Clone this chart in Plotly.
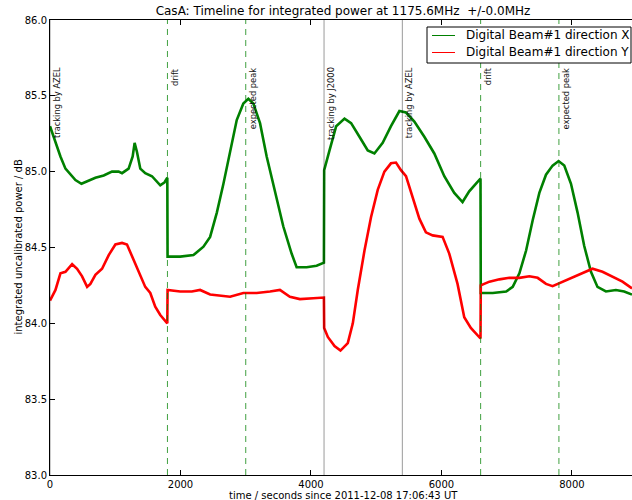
import plotly.graph_objects as go

# Integrated power timeline, direction X (seconds since start, dB)
time_x = [0, 23, 84, 160, 237, 313, 390, 482, 593, 696, 823, 950, 1052, 1104, 1205,
          1267, 1297, 1333, 1384, 1460, 1563, 1690, 1756, 1798,
          1802, 1995, 2199, 2352, 2454, 2557, 2658, 2760, 2862, 2963, 3040, 3116, 3219,
          3321, 3448, 3575, 3703, 3780, 3933, 4086, 4198,
          4202, 4284, 4386, 4514, 4615, 4743, 4870, 4972, 5099, 5226, 5355, 5456, 5584,
          5737, 5890, 6043, 6196, 6323, 6425, 6526, 6598,
          6602, 6786, 6991, 7092, 7194, 7297, 7398, 7500, 7602, 7703, 7795, 7882, 7985,
          8086, 8188, 8291, 8391, 8520, 8673, 8800, 8920]
power_x = [85.30, 85.27, 85.19, 85.10, 85.02, 84.98, 84.945, 84.92, 84.94, 84.96, 84.975, 85.00, 85.00, 84.99, 85.02,
           85.10, 85.19, 85.13, 85.02, 84.99, 84.97, 84.91, 84.93, 84.96,
           84.44, 84.44, 84.45, 84.505, 84.57, 84.73, 84.92, 85.14, 85.34, 85.45, 85.48, 85.45, 85.32,
           85.10, 84.86, 84.64, 84.46, 84.37, 84.37, 84.38, 84.40,
           85.01, 85.14, 85.30, 85.35, 85.32, 85.23, 85.14, 85.12, 85.19, 85.30, 85.40, 85.39, 85.33,
           85.23, 85.12, 84.97, 84.86, 84.80, 84.87, 84.92, 84.955,
           84.20, 84.20, 84.21, 84.24, 84.33, 84.48, 84.68, 84.86, 84.98, 85.04, 85.07, 85.04, 84.92,
           84.73, 84.51, 84.34, 84.24, 84.21, 84.22, 84.21, 84.19]

# Integrated power timeline, direction Y
time_y = [0, 84, 160, 237, 339, 415, 492, 569, 619, 696, 798, 900, 1002, 1104, 1180,
          1257, 1358, 1460, 1537, 1613, 1690, 1766, 1798,
          1802, 1995, 2174, 2301, 2454, 2607, 2760, 2963, 3168, 3372, 3524, 3677, 3830, 4034, 4198,
          4202, 4258, 4361, 4452, 4564, 4641, 4717, 4820, 4920, 5023, 5125, 5226, 5303, 5379,
          5456, 5558, 5661, 5761, 5864, 6017, 6119, 6246, 6349, 6450, 6598,
          6602, 6735, 6888, 7041, 7194, 7347, 7474, 7602, 7703, 7832, 7985, 8138, 8315, 8468,
          8621, 8774, 8920]
power_y = [84.15, 84.22, 84.33, 84.34, 84.39, 84.36, 84.31, 84.24, 84.26, 84.32, 84.36, 84.45, 84.52, 84.53, 84.52,
           84.44, 84.34, 84.24, 84.20, 84.11, 84.055, 84.02, 84.00,
           84.22, 84.21, 84.21, 84.22, 84.19, 84.18, 84.175, 84.20, 84.20, 84.21, 84.22, 84.175, 84.16, 84.165, 84.17,
           83.97, 83.91, 83.85, 83.82, 83.87, 84.00, 84.22, 84.48, 84.70, 84.88, 85.00, 85.055, 85.06, 85.01,
           84.97, 84.835, 84.69, 84.60, 84.58, 84.57, 84.46, 84.26, 84.04, 83.97, 83.90,
           84.25, 84.275, 84.29, 84.30, 84.30, 84.31, 84.30, 84.26, 84.245, 84.27, 84.30, 84.325, 84.36, 84.34,
           84.31, 84.275, 84.23]

series_names = ["Digital Beam#1 direction X", "Digital Beam#1 direction Y"]

# Observation events (seconds) and their labels
event_times = [0, 1800, 3000, 4200, 5400, 6600, 7800]
event_labels = ["tracking by AZEL", "drift", "expected peak", "tracking by J2000",
                "tracking by AZEL", "drift", "expected peak"]
event_dashed = [False, True, True, False, False, True, True]

x_ticks = [0, 2000, 4000, 6000, 8000]
y_ticks = [83.0, 83.5, 84.0, 84.5, 85.0, 85.5, 86.0]

FONT = "DejaVu Sans"
GREEN = "#008000"
RED = "#ff0000"

# plot area geometry (pixels)
W, H = 632, 500
L, T, B = 50, 20, 25
PW, PH = W - L, H - T - B


def px_x(px):
    return (px - L) / PW


def px_y(py):
    return (H - B - py) / PH


fig = go.Figure()

fig.add_trace(go.Scatter(x=time_x, y=power_x, mode="lines", name=series_names[0],
                         showlegend=False, line=dict(color=GREEN, width=2.6)))
fig.add_trace(go.Scatter(x=time_y, y=power_y, mode="lines", name=series_names[1],
                         showlegend=False, line=dict(color=RED, width=2.6)))

for t, label, dashed in zip(event_times, event_labels, event_dashed):
    if dashed:
        line = dict(color="rgba(0,128,0,0.75)", width=1, dash="6px,5px")
    else:
        line = dict(color="rgba(0,0,0,0.4)", width=1)
    fig.add_shape(type="line", xref="x", yref="paper", x0=t, x1=t, y0=0, y1=1,
                  line=line, layer="above")
    fig.add_annotation(x=t, y=85.7, xref="x", yref="y", text=label, textangle=-90,
                       xanchor="left", yanchor="top", showarrow=False,
                       font=dict(family=FONT, size=8.3, color="#111"))

# legend box in the upper right corner
fig.add_shape(type="rect", xref="paper", yref="paper",
              x0=px_x(427), x1=px_x(631), y0=px_y(63), y1=px_y(27),
              line=dict(color="black", width=1), fillcolor="white", layer="above")
for name, color, py in zip(series_names, [GREEN, RED], [35.5, 52.5]):
    fig.add_shape(type="line", xref="paper", yref="paper",
                  x0=px_x(432), x1=px_x(455), y0=px_y(py), y1=px_y(py),
                  line=dict(color=color, width=1), layer="above")
    fig.add_annotation(x=px_x(464), y=px_y(py), xref="paper", yref="paper", text=name,
                       xanchor="left", yanchor="middle", showarrow=False,
                       font=dict(family=FONT, size=12, color="black"))

fig.update_layout(
    width=W, height=H,
    margin=dict(l=L, r=0, t=T, b=B),
    paper_bgcolor="white", plot_bgcolor="white",
    font=dict(family=FONT, size=10, color="black"),
    showlegend=False,
    title=dict(text="CasA: Timeline for integrated power at 1175.6MHz  +/-0.0MHz",
               x=343 / W, xanchor="center", y=1 - 11 / H, yanchor="middle",
               xref="container", yref="container",
               font=dict(family=FONT, size=12, color="black")),
    xaxis=dict(range=[0, 8920], tickvals=x_ticks, ticktext=[str(v) for v in x_ticks],
               ticks="inside", ticklen=5, tickcolor="black", showgrid=False,
               zeroline=False, showline=True, linecolor="black", linewidth=1,
               mirror="ticks", tickfont=dict(family=FONT, size=10)),
    yaxis=dict(range=[83.0, 86.0], tickvals=y_ticks, ticktext=[f"{v:.1f}" for v in y_ticks],
               ticks="inside", ticklen=5, tickcolor="black", showgrid=False,
               zeroline=False, showline=True, linecolor="black", linewidth=1,
               tickfont=dict(family=FONT, size=10)),
)

# axis titles
fig.add_annotation(x=px_x(343), y=px_y(495), xref="paper", yref="paper",
                   text="time / seconds since 2011-12-08 17:06:43 UT", showarrow=False,
                   xanchor="center", yanchor="middle", font=dict(family=FONT, size=10))
fig.add_annotation(x=px_x(18), y=0.5, xref="paper", yref="paper",
                   text="integrated uncalibrated power / dB", textangle=-90, showarrow=False,
                   xanchor="center", yanchor="middle", font=dict(family=FONT, size=10))

fig.write_html("out.html")
